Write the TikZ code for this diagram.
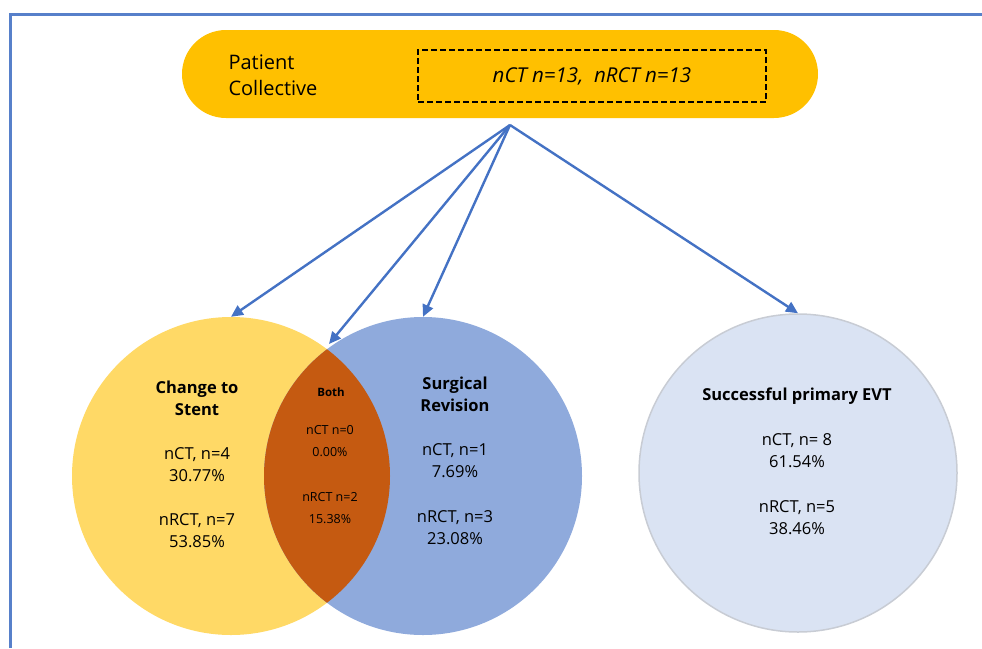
\documentclass[tikz,border=0pt]{standalone}
\usepackage{fontspec}
\setmainfont{Open Sans}
\usetikzlibrary{arrows.meta,positioning,calc}
\definecolor{gold}{HTML}{FFC000}
\definecolor{stentc}{HTML}{FFD966}
\definecolor{surgc}{HTML}{8FAADC}
\definecolor{bothc}{HTML}{C55A11}
\definecolor{evtc}{HTML}{DAE3F3}
\definecolor{evtln}{HTML}{C8CCD4}
\definecolor{acc}{HTML}{4472C4}
\newcommand{\txt}{\fontsize{16.5}{22}\selectfont}
\newcommand{\sml}{\fontsize{12.5}{22}\selectfont}
\tikzset{
  circ/.style={circle,minimum size=318pt,inner sep=0pt},
  lbl/.style={align=center,font=\txt},
  hd/.style={lbl,font=\txt\bfseries},
  ar/.style={-{Triangle[length=12pt,width=11pt]},line width=2.4pt,draw=acc},
}
\begin{document}
\begin{tikzpicture}[x=1pt,y=-1pt]
\useasboundingbox (0,0) rectangle (982,648);
\draw[acc!90,line width=3pt] (10,648) -- (10,14) -- (982,14);
\node[fill=gold,rounded corners=44pt,minimum width=636pt,minimum height=88pt] (pc) at (500,74) {};
\node[anchor=west,align=left,font=\fontsize{20}{26}\selectfont] (pcl) at (225,75) {Patient\\Collective};
\node[draw,dashed,line width=1.4pt,dash pattern=on 6pt off 3pt,minimum width=348pt,minimum height=52pt,
  font=\fontsize{20.5}{24}\selectfont\itshape] (grp) at (592,76) {nCT n=13,~ nRCT n=13};
\node[circ,fill=stentc] (stent) at (231,476) {};
\node[circ,fill=surgc] (surg) at (423,476) {};
\begin{scope}
\clip (stent.center) circle[radius=159pt];
\fill[bothc] (surg.center) circle[radius=159pt];
\end{scope}
\node[circ,fill=evtc,draw=evtln,line width=1.5pt] (evt) at (798,473) {};
\coordinate (hub) at (510,125);
\coordinate (both) at (329,344);
\draw[ar] (hub) -- (stent.north);
\draw[ar] (hub) -- (both);
\draw[ar] (hub) -- (surg.north);
\draw[ar] (hub) -- (evt.north);
\node[hd] (st1) at (197,398) {Change to\\Stent};
\node[lbl] (st2) at (197,465) {nCT, n=4\\30.77\%};
\node[lbl] (st3) at (197,531) {nRCT, n=7\\53.85\%};
\node[font=\fontsize{11.5}{14}\selectfont\bfseries] (bt1) at (331,392) {Both};
\node[align=center,font=\sml] (bt2) at (330,441) {nCT n=0\\0.00\%};
\node[align=center,font=\sml] (bt3) at (330,508) {nRCT n=2\\15.38\%};
\node[hd] (sr1) at (455,394) {Surgical\\Revision};
\node[lbl] (sr2) at (455,461) {nCT, n=1\\7.69\%};
\node[lbl] (sr3) at (455,528) {nRCT, n=3\\23.08\%};
\node[hd] (ev1) at (797,396) {Successful primary EVT};
\node[lbl] (ev2) at (797,451) {nCT, n=~8\\61.54\%};
\node[lbl] (ev3) at (797,518) {nRCT, n=5\\38.46\%};
\end{tikzpicture}
\end{document}
